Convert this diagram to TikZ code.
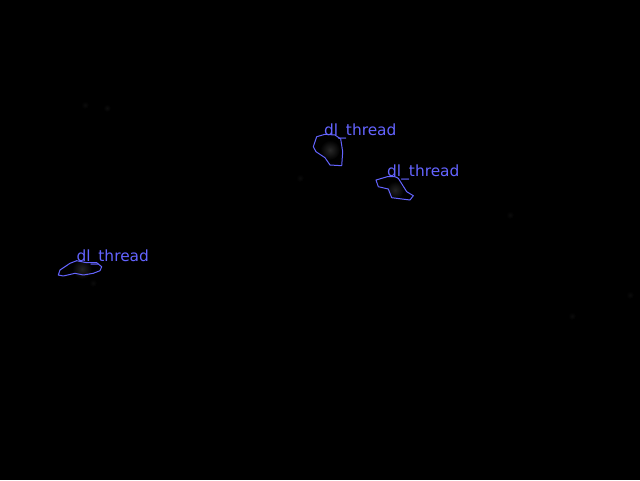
\documentclass[tikz,border=0pt]{standalone}
\usepackage{fontspec}
\setmainfont{DejaVu Sans}
\begin{document}
\begin{tikzpicture}[x=1pt,y=-1pt,
  lbl/.style={anchor=base west,inner sep=0pt,text=lblue,font=\fontsize{15.4}{15.4}\selectfont},
  outline/.style={draw=lblue,line width=1pt,line join=round},
  glow/.style={inner color=black!65!white,outer color=black},
]
\definecolor{lblue}{RGB}{100,100,255}
\fill[black] (0,0) rectangle (640,480);
\useasboundingbox (0,0) rectangle (640,480);
% faint glows
\fill[glow,opacity=0.45] (330,150) circle (10);
\fill[glow,opacity=0.4] (395,190) circle (9);
\fill[glow,opacity=0.4] (82,269) circle (10);
\fill[glow,opacity=0.15] (107,108) circle (4);
\fill[glow,opacity=0.12] (85,105) circle (4);
\fill[glow,opacity=0.12] (300,178) circle (4);
\fill[glow,opacity=0.12] (510,215) circle (4);
\fill[glow,opacity=0.12] (93,283) circle (4);
\fill[glow,opacity=0.12] (572,316) circle (4);
\fill[glow,opacity=0.12] (630,295) circle (4);
% outlines
\draw[outline] (316.7,136.7) -- (313.3,146.7) -- (316,151.7) -- (325,157.7) -- (330,165) -- (341.7,165.7) -- (342.7,151.7) -- (340.7,139) -- (335,135) -- (325,134.3) -- cycle;
\draw[outline] (376,180) -- (378.3,186.7) -- (388.3,189) -- (391.7,197.7) -- (410,200) -- (413.3,195.7) -- (406.7,191.7) -- (398.3,178.3) -- (395,176.7) -- (387.3,176.7) -- cycle;
\draw[outline] (60,270) -- (58.3,275) -- (63.3,276) -- (75,273.3) -- (83.3,275) -- (93.3,273.3) -- (100,270.7) -- (101.7,266.7) -- (96.7,262.7) -- (86.7,262.7) -- (76.7,260.7) -- (70,263.3) -- cycle;
% labels
\node[lbl] (l1) at (324,135) {dl\_thread};
\node[lbl] (l2) at (387,176.5) {dl\_thread};
\node[lbl] (l3) at (76.5,261) {dl\_thread};
\end{tikzpicture}
\end{document}
